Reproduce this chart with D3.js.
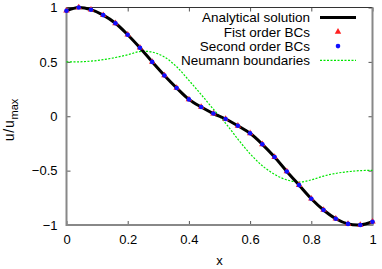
<!DOCTYPE html>
<meta charset="utf-8">
<script src="https://d3js.org/d3.v7.min.js"></script>
<style>
  body { margin: 0; background: #fff; }
  text { font-family: "Liberation Sans", Arial, sans-serif; }
</style>
<body>
<div id="chart"></div>
<script>

    // sample points along x
    var xs = [0, 0.04, 0.08, 0.12, 0.16, 0.20, 0.24, 0.28, 0.32, 0.36, 0.40, 0.44, 0.48,
              0.52, 0.56, 0.60, 0.64, 0.68, 0.72, 0.76, 0.80, 0.84, 0.88, 0.92, 0.96, 1.0];

    // analytical solution (same values for both numerical BCs)
    var analytical = [0.97, 1.0, 0.98, 0.93, 0.855, 0.75, 0.63, 0.50, 0.375, 0.26, 0.155, 0.085, 0.025,
                      -0.025, -0.088, -0.157, -0.258, -0.375, -0.508, -0.633, -0.758, -0.862, -0.942, -0.99, -1.0, -0.97];
    var firstOrder = analytical.slice();
    var secondOrder = analytical.slice();

    // Neumann boundaries
    var neumann = [0.50, 0.50, 0.507, 0.52, 0.54, 0.565, 0.595, 0.59, 0.545, 0.455, 0.33, 0.20, 0.065,
                   -0.065, -0.21, -0.345, -0.455, -0.535, -0.585, -0.605, -0.585, -0.55, -0.525, -0.51, -0.50, -0.497];

    var xTicks = [0, 0.2, 0.4, 0.6, 0.8, 1];
    var yTicks = [-1, -0.5, 0, 0.5, 1];
    var legendLabels = ["Analytical solution", "Fist order BCs", "Second order BCs", "Neumann boundaries"];

    var width = 382, height = 269;
    var margin = {top: 7.5, right: 9.5, bottom: 44, left: 66.5};

    var svg = d3.select("#chart")
      .append("svg")
        .attr("width", width)
        .attr("height", height);

    var x = d3.scaleLinear()
      .domain([0, 1])
      .range([margin.left, width - margin.right]);
    var y = d3.scaleLinear()
      .domain([-1, 1])
      .range([height - margin.bottom, margin.top]);

    // axes with inward ticks
    function styleAxis(g) {
      g.select(".domain").remove();
      g.selectAll(".tick line").attr("stroke", "#555");
      g.selectAll(".tick text").attr("font-size", "13px").attr("fill", "#000");
    }
    svg.append("g")
      .attr("transform", "translate(0," + y(-1) + ")")
      .call(d3.axisBottom(x).tickValues(xTicks).tickSize(-4).tickPadding(10).tickFormat(d3.format("")))
      .call(styleAxis);
    svg.append("g")
      .attr("transform", "translate(0," + y(1) + ")")
      .call(d3.axisTop(x).tickValues(xTicks).tickSize(-4).tickFormat(""))
      .call(styleAxis);
    svg.append("g")
      .attr("transform", "translate(" + x(0) + ",0)")
      .call(d3.axisLeft(y).tickValues(yTicks).tickSize(-4).tickPadding(9).tickFormat(d3.format("")))
      .call(styleAxis);
    svg.append("g")
      .attr("transform", "translate(" + x(1) + ",0)")
      .call(d3.axisRight(y).tickValues(yTicks).tickSize(-4).tickFormat(""))
      .call(styleAxis);

    // border
    svg.append("line")
      .attr("x1", x(0)).attr("x2", x(1)).attr("y1", y(1)).attr("y2", y(1))
      .attr("stroke", "#333").attr("stroke-width", 1);
    svg.append("path")
      .attr("d", "M" + x(0) + "," + y(1) + "V" + y(-1) + "H" + x(1) + "V" + y(1))
      .attr("fill", "none").attr("stroke", "#888").attr("stroke-width", 2);

    // axis titles
    svg.append("text")
      .attr("x", x(0.5)).attr("y", 265)
      .attr("text-anchor", "middle")
      .attr("font-size", "13px")
      .text("x");
    var yl = svg.append("text")
      .attr("transform", "translate(14,120) rotate(-90)")
      .attr("text-anchor", "middle")
      .attr("font-size", "14px");
    yl.append("tspan").attr("letter-spacing", "0.8px").text("u/u");
    yl.append("tspan").attr("font-size", "11px").attr("dy", 4).text("max");

    var pts = xs.map(function(d, i) { return i; });

    // Neumann curve
    svg.append("path")
      .datum(pts)
      .attr("fill", "none")
      .attr("stroke", "#00e600")
      .attr("stroke-width", 1.2)
      .attr("stroke-dasharray", "2,1.5")
      .attr("d", d3.line()
        .curve(d3.curveCatmullRom)
        .x(function(i) { return x(xs[i]); })
        .y(function(i) { return y(neumann[i]); }));

    // analytical solution
    svg.append("path")
      .datum(pts)
      .attr("fill", "none")
      .attr("stroke", "#000")
      .attr("stroke-width", 3)
      .attr("d", d3.line()
        .curve(d3.curveCatmullRom)
        .x(function(i) { return x(xs[i]); })
        .y(function(i) { return y(analytical[i]); }));

    var tri = d3.symbol().type(d3.symbolTriangle).size(18);

    svg.append("g")
      .selectAll("path")
      .data(pts)
      .enter()
      .append("path")
        .attr("d", tri)
        .attr("transform", function(i) { return "translate(" + x(xs[i]) + "," + y(firstOrder[i]) + ")"; })
        .attr("fill", "#ff2020");

    svg.append("g")
      .selectAll("circle")
      .data(pts)
      .enter()
      .append("circle")
        .attr("cx", function(i) { return x(xs[i]); })
        .attr("cy", function(i) { return y(secondOrder[i]); })
        .attr("r", 2.3)
        .attr("fill", "#1010ff");

    // legend
    var legend = svg.append("g");
    legendLabels.forEach(function(label, k) {
      var ly = 17.5 + k * 14.3;
      legend.append("text")
        .attr("x", 310).attr("y", ly)
        .attr("dy", "0.35em")
        .attr("text-anchor", "end")
        .attr("font-size", "13.5px")
        .text(label);
      if (k === 0) {
        legend.append("line").attr("x1", 320).attr("x2", 356).attr("y1", ly).attr("y2", ly)
          .attr("stroke", "#000").attr("stroke-width", 3);
      } else if (k === 1) {
        legend.append("path").attr("d", tri)
          .attr("transform", "translate(338," + ly + ")").attr("fill", "#ff2020");
      } else if (k === 2) {
        legend.append("circle").attr("cx", 338).attr("cy", ly).attr("r", 2.3).attr("fill", "#1010ff");
      } else {
        legend.append("line").attr("x1", 320).attr("x2", 356).attr("y1", ly).attr("y2", ly)
          .attr("stroke", "#00e600").attr("stroke-width", 1.2).attr("stroke-dasharray", "2,1.5");
      }
    });

</script>
</body>
